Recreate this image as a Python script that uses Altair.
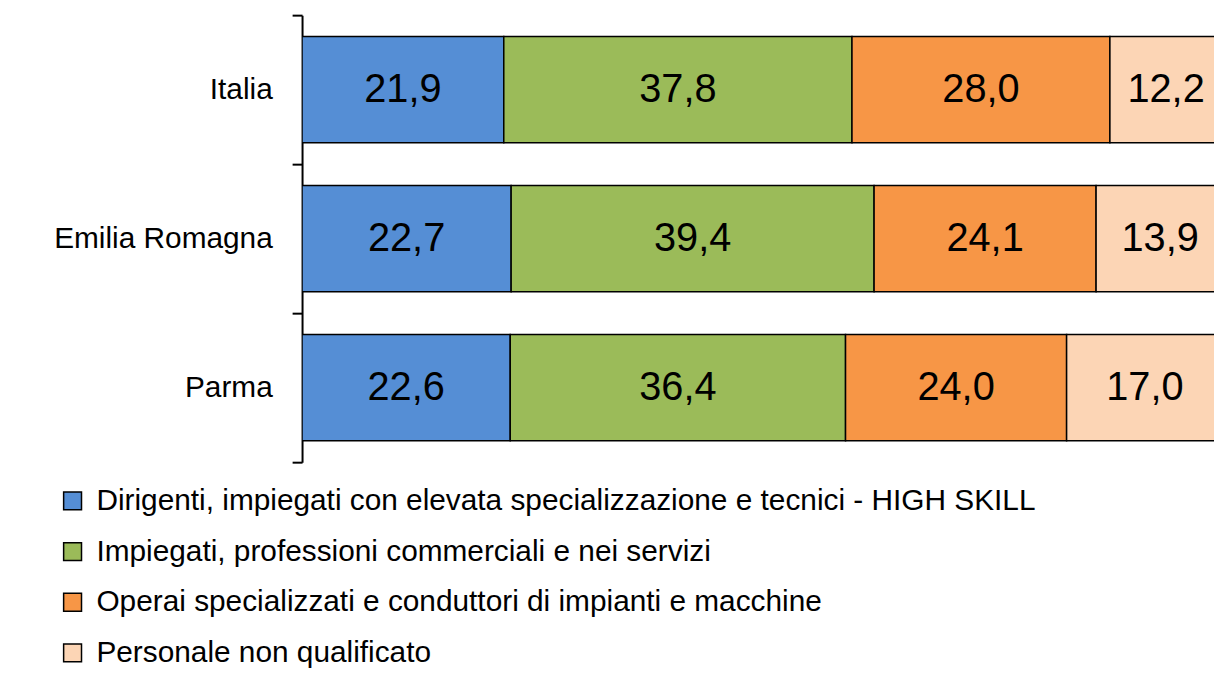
import altair as alt
import pandas as pd

regions = ["Italia", "Emilia Romagna", "Parma"]
groups = [
    "Dirigenti, impiegati con elevata specializzazione e tecnici - HIGH SKILL",
    "Impiegati, professioni commerciali e nei servizi",
    "Operai specializzati e conduttori di impianti e macchine",
    "Personale non qualificato",
]
colors = ["#558ED5", "#9BBB59", "#F79646", "#FCD5B5"]
italia = [21.9, 37.8, 28.0, 12.2]
emilia = [22.7, 39.4, 24.1, 13.9]
parma = [22.6, 36.4, 24.0, 17.0]

rows = []
for reg, vals in zip(regions, [italia, emilia, parma]):
    for i, (g, v) in enumerate(zip(groups, vals)):
        rows.append({"region": reg, "group": g, "order": i, "value": v,
                     "label": f"{v:.1f}".replace(".", ",")})
df = pd.DataFrame(rows)

FONT = "Liberation Sans"

base = alt.Chart(df).transform_stack(
    stack="value", as_=["x0", "x1"], groupby=["region"],
    sort=[alt.SortField("order", order="ascending")]
).transform_calculate(mid="(datum.x0 + datum.x1) / 2")

yenc = alt.Y("region:N", sort=regions, title=None,
             scale=alt.Scale(paddingInner=0, paddingOuter=0),
             axis=alt.Axis(labelFont=FONT, labelFontSize=30, labelColor="black",
                           labelPadding=20, labelLimit=400, tickSize=10,
                           tickColor="black", tickWidth=2, domainColor="black",
                           domainWidth=2, tickBand="extent", grid=False))

xscale = alt.Scale(domain=[0, 99.0], nice=False, zero=True)

bars = base.mark_bar(stroke="black", strokeWidth=1.5, clip=True,
                     height=alt.RelativeBandSize(0.713)).encode(
    x=alt.X("x0:Q", scale=xscale, axis=None),
    x2="x1:Q",
    y=yenc,
    color=alt.Color("group:N", sort=groups,
                    scale=alt.Scale(domain=groups, range=colors),
                    legend=alt.Legend(title=None, orient="none",
                                      legendX=-246, legendY=474,
                                      direction="vertical",
                                      symbolType="square", symbolSize=324,
                                      symbolStrokeColor="black",
                                      symbolStrokeWidth=1.5,
                                      symbolOpacity=1,
                                      labelFont=FONT, labelFontSize=30,
                                      labelColor="black", labelOffset=9,
                                      labelLimit=1200, rowPadding=21,
                                      padding=0)),
)

texts = base.mark_text(font=FONT, fontSize=40, color="black",
                       align="center", baseline="middle").encode(
    x=alt.X("mid:Q", scale=xscale, axis=None),
    y=alt.Y("region:N", sort=regions),
    text="label:N",
)

chart = (bars + texts).properties(
    width=918, height=450,
    autosize=alt.AutoSizeParams(type="none"),
    padding={"left": 296, "top": 5, "right": 0, "bottom": 206},
).configure_view(stroke=None)

chart.save("out.html", embed_options={"renderer": "svg", "actions": False})
